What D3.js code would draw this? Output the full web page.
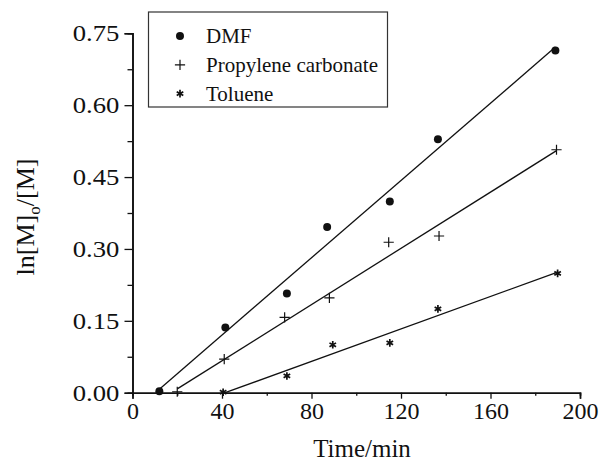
<!DOCTYPE html>
<html>
<head>
<meta charset="utf-8">
<script src="https://cdn.jsdelivr.net/npm/d3@7"></script>
<style>
  body { margin: 0; background: #fff; }
</style>
</head>
<body>
<div id="chart-container"></div>
<script>
// Chart size and plot edges (pixels)
const width = 601;
const height = 463;
const marginLeft = 132.5;
const marginRight = 21;
const marginTop = 33.3;
const marginBottom = 70.3;
const serif = "Liberation Serif";

// Data
const seriesNames = ["DMF", "Propylene carbonate", "Toluene"];
const dmfTime = [12, 41.5, 69, 87, 115, 136.5, 189];
const dmfValue = [0.003, 0.136, 0.207, 0.346, 0.399, 0.529, 0.714];
const pcTime = [20, 41, 68, 88, 114.5, 137, 189.5];
const pcValue = [0.002, 0.070, 0.157, 0.198, 0.314, 0.327, 0.507];
const tolTime = [40.5, 69, 89.5, 115, 136.5, 190];
const tolValue = [0.001, 0.035, 0.100, 0.104, 0.175, 0.249];
const xTicks = [0, 40, 80, 120, 160, 200];
const yTicks = [0, 0.15, 0.30, 0.45, 0.60, 0.75];

const series = [
  {name: seriesNames[0], t: dmfTime, v: dmfValue, symbol: "circle"},
  {name: seriesNames[1], t: pcTime, v: pcValue, symbol: "plus"},
  {name: seriesNames[2], t: tolTime, v: tolValue, symbol: "asterisk"},
];

// least squares line for each series
function fit(t, v) {
  const mt = d3.mean(t), mv = d3.mean(v);
  const sxy = d3.sum(t, (d, i) => (d - mt) * (v[i] - mv));
  const sxx = d3.sum(t, d => (d - mt) ** 2);
  const slope = sxy / sxx;
  const b = mv - slope * mt;
  const [t0, t1] = d3.extent(t);
  return [[t0, b + slope * t0], [t1, b + slope * t1]];
}

const x = d3.scaleLinear()
    .domain([0, 200])
    .range([marginLeft, width - marginRight]);

const y = d3.scaleLinear()
    .domain([0, 0.75])
    .range([height - marginBottom, marginTop]);

const svg = d3.create("svg")
    .attr("width", width)
    .attr("height", height);

// x-axis (major + minor ticks)
const gx = svg.append("g")
    .attr("transform", `translate(0,${height - marginBottom})`);
gx.call(d3.axisBottom(x).tickValues(d3.range(20, 200, 40)).tickSize(3).tickFormat(""));
gx.append("g").call(d3.axisBottom(x).tickValues(xTicks).tickSize(6).tickPadding(3.5)
    .tickFormat(d3.format("d")));
gx.selectAll("path").attr("stroke", "#111").attr("stroke-width", 1.6);
gx.selectAll("line").attr("stroke", "#111").attr("stroke-width", 1.3);
gx.selectAll(".tick text")
    .attr("font-size", 24)
    .attr("font-family", serif)
    .attr("fill", "#111");

// y-axis (major + minor ticks)
const gy = svg.append("g")
    .attr("transform", `translate(${marginLeft},0)`);
gy.call(d3.axisLeft(y).tickValues(d3.range(0.075, 0.75, 0.15)).tickSize(5).tickFormat(""));
gy.append("g").call(d3.axisLeft(y).tickValues(yTicks).tickSize(8)
    .tickFormat(d3.format(".2f")));
gy.selectAll("path").attr("stroke", "#111").attr("stroke-width", 1.6);
gy.selectAll("line").attr("stroke", "#111").attr("stroke-width", 1.3);
// the scanned labels are a little wider than the face, so stretch them
gy.selectAll(".tick text")
    .attr("x", -11.3)
    .attr("transform", "scale(1.16,1)")
    .attr("font-size", 23)
    .attr("font-family", serif)
    .attr("fill", "#111");

// axis titles
svg.append("text")
    .attr("x", 362)
    .attr("y", 457)
    .attr("text-anchor", "middle")
    .attr("font-family", serif)
    .attr("font-size", 25)
    .attr("fill", "#111")
    .text("Time/min");

const yTitle = svg.append("text")
    .attr("transform", "translate(34,217) rotate(-90)")
    .attr("text-anchor", "middle")
    .attr("font-family", serif)
    .attr("font-size", 26)
    .attr("fill", "#111");
yTitle.append("tspan").text("ln[M]");
yTitle.append("tspan").attr("font-size", 17).attr("dy", 6).text("o");
yTitle.append("tspan").attr("dy", -6).text("/[M]");

// fit lines
const line = d3.line().x(d => x(d[0])).y(d => y(d[1]));
svg.append("g")
  .selectAll("path")
  .data(series)
  .join("path")
    .attr("d", s => line(fit(s.t, s.v)))
    .attr("fill", "none")
    .attr("stroke", "#111")
    .attr("stroke-width", 1.3);

// markers
const symbols = {
  circle: d3.symbol(d3.symbolCircle, 50),
  plus: d3.symbol(d3.symbolPlus, 36),
  asterisk: d3.symbol(d3.symbolAsterisk, 40),
};
function drawMarker(sel, kind) {
  sel.attr("d", symbols[kind]());
  if (kind === "circle") sel.attr("fill", "#111").attr("stroke", "none");
  else sel.attr("fill", "none").attr("stroke", "#111").attr("stroke-width", kind === "plus" ? 1.2 : 1.7);
}

series.forEach(s => {
  svg.append("g")
    .selectAll("path")
    .data(s.t.map((t, i) => [t, s.v[i]]))
    .join("path")
      .attr("transform", d => `translate(${x(d[0])},${y(d[1])})`)
      .call(drawMarker, s.symbol);
});

// legend
const legend = svg.append("g");
legend.append("rect")
    .attr("x", 148.5).attr("y", 12)
    .attr("width", 239).attr("height", 95)
    .attr("fill", "#fff")
    .attr("stroke", "#333")
    .attr("stroke-width", 1.2);
series.forEach((s, i) => {
  const cy = 36 + i * 28.8;
  legend.append("path")
      .attr("transform", `translate(180,${cy})`)
      .call(drawMarker, s.symbol);
  legend.append("text")
      .attr("x", 206)
      .attr("y", cy + 7)
      .attr("font-family", serif)
      .attr("font-size", 21)
      .attr("fill", "#111")
      .text(s.name);
});

d3.select("#chart-container").append(() => svg.node());
</script>
</body>
</html>
